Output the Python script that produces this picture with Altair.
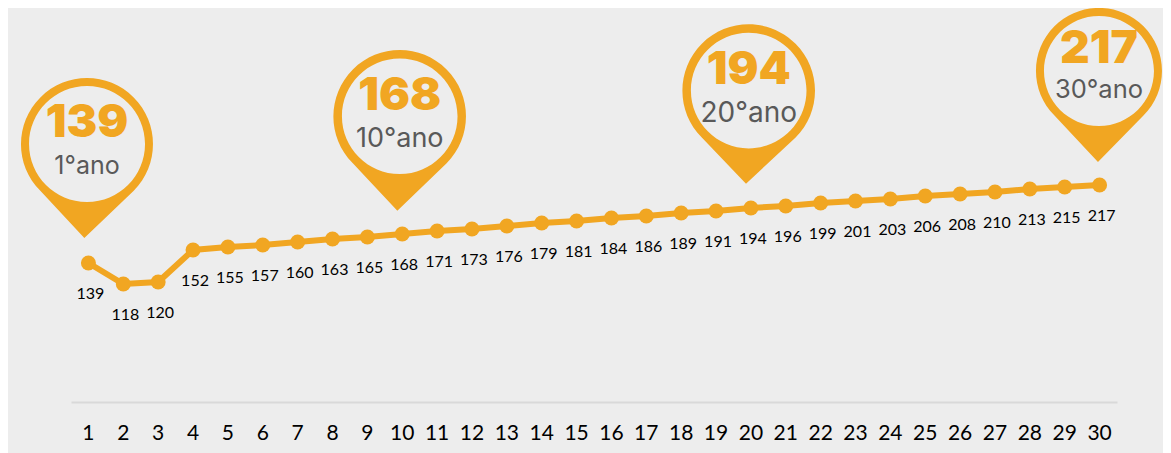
import altair as alt
import pandas as pd

years = list(range(1, 31))
values = [139, 118, 120, 152, 155, 157, 160, 163, 165, 168, 171, 173, 176, 179, 181,
          184, 186, 189, 191, 194, 196, 199, 201, 203, 206, 208, 210, 213, 215, 217]
pin_years = [1, 10, 20, 30]
pin_values = [139, 168, 194, 217]
pin_labels = ["1°ano", "10°ano", "20°ano", "30°ano"]

ORANGE = "#F1A622"
BG = "#EDEDED"

# style of each pin, in pixels relative to its data point:
# tip dx/dy, ring centre dx/dy, outer and inner radius, offset of the texts, size of the sub text
PIN_STYLE = [
    dict(tip=(-4.1, -25), c=(-1.4, -119), R=66, r=58, big=-140, sub=-97.5, fs=25),
    dict(tip=(-4.9, -23.3), c=(-2.5, -117.7), R=66.3, r=57.8, big=-138, sub=-95, fs=27),
    dict(tip=(-4.9, -24.3), c=(-2.2, -117.4), R=66.3, r=57.8, big=-138.3, sub=-94.5, fs=28),
    dict(tip=(-1.6, -23), c=(-0.6, -114), R=63, r=55, big=-136, sub=-95, fs=25.5),
]


def pin_path(tip, c, R, r):
    """Ring with a pointed bottom: the outer outline runs clockwise, the hole counter-clockwise."""
    k = 0.7071 * R
    lx, ly = c[0] - k, c[1] + k
    rx, ry = c[0] + k, c[1] + k
    return (f"M{tip[0]} {tip[1]} L{lx:.1f} {ly:.1f} A{R} {R} 0 1 1 {rx:.1f} {ry:.1f} Z "
            f"M{c[0]} {c[1] - r} A{r} {r} 0 1 0 {c[0]} {c[1] + r} "
            f"A{r} {r} 0 1 0 {c[0]} {c[1] - r} Z")


df = pd.DataFrame({"year": years, "value": values})

x = alt.X("year:O", title=None,
          scale=alt.Scale(type="band", paddingInner=0, paddingOuter=0, domain=years),
          axis=alt.Axis(labelAngle=0, labelFontSize=21, labelFont="Lato", labelColor="#000000",
                        labelPadding=20, ticks=False, grid=False, domain=True,
                        domainColor="#D9D9D9", domainWidth=2))
y = alt.Y("value:Q", title=None, scale=alt.Scale(domain=[0, 394], nice=False), axis=None)

base = alt.Chart(df).encode(x=x, y=y)
layers = [
    base.mark_line(color=ORANGE, strokeWidth=6),
    base.mark_circle(color=ORANGE, size=225, opacity=1),
    base.mark_text(font="Lato", fontSize=16, color="#000000", dy=31, dx=2).encode(text="value:Q"),
]

for yr, val, lab, st in zip(pin_years, pin_values, pin_labels, PIN_STYLE):
    one = pd.DataFrame({"year": [yr], "value": [val], "label": [lab], "num": [str(val)]})
    pb = alt.Chart(one).encode(x=x, y=y)
    dx = st["c"][0]
    layers += [
        pb.mark_point(shape=pin_path(st["tip"], st["c"], st["R"], st["r"]), filled=True,
                      fill=ORANGE, size=4, opacity=1),
        pb.mark_text(font="Inter", fontWeight=900, fontSize=46, color=ORANGE,
                     dy=st["big"], dx=dx).encode(text="num:N"),
        pb.mark_text(font="Inter", fontSize=st["fs"], color="#595959",
                     dy=st["sub"], dx=dx).encode(text="label:N"),
    ]

chart = alt.layer(*layers).properties(
    width=1046, height=394, background=BG,
    padding={"left": 63, "top": 0, "right": 46, "bottom": 51},
    autosize=alt.AutoSizeParams(type="none"),
).configure_view(stroke=None)

chart.save("out.html", embed_options={"renderer": "svg", "actions": False})
